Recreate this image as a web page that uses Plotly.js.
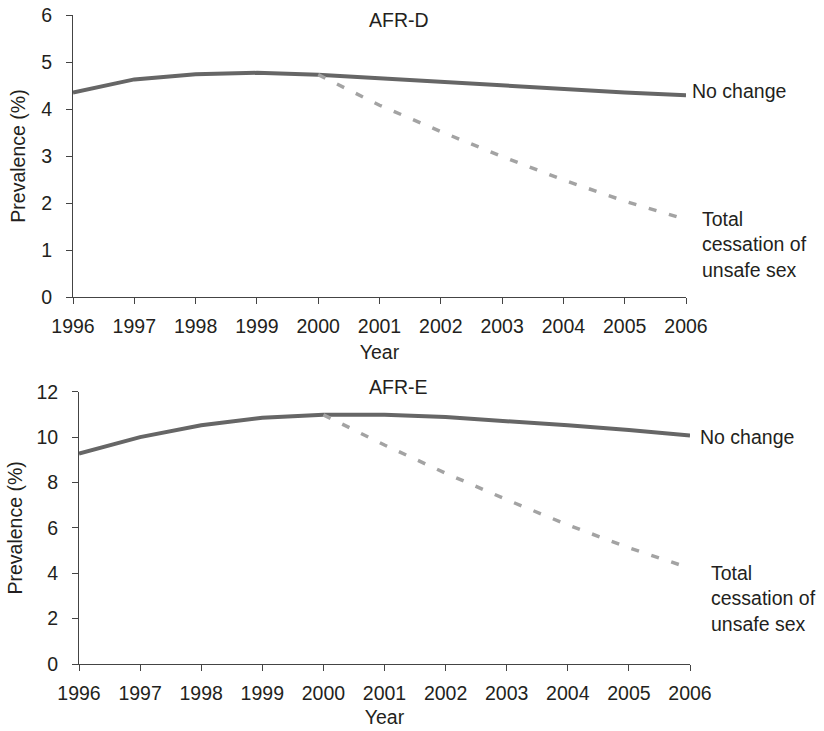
<!DOCTYPE html>
<html>
<head>
<meta charset="utf-8">
<script src="https://cdn.plot.ly/plotly-3.0.1.min.js"></script>
<style>
  html, body { margin: 0; padding: 0; background: #fff; }
  #chart { width: 824px; height: 731px; }
</style>
</head>
<body>
<div id="chart"></div>
<script>
// ---- data ----
const years = [1996, 1997, 1998, 1999, 2000, 2001, 2002, 2003, 2004, 2005, 2006];
const cessYears = [2000, 2001, 2002, 2003, 2004, 2005, 2006];

const afrDNoChange = [4.35, 4.63, 4.74, 4.77, 4.73, 4.65, 4.57, 4.49, 4.42, 4.35, 4.29];
const afrDCessation = [4.73, 4.08, 3.52, 2.99, 2.49, 2.04, 1.65];

const afrENoChange = [9.27, 10.0, 10.52, 10.85, 10.98, 10.98, 10.88, 10.72, 10.52, 10.31, 10.07];
const afrECessation = [10.98, 9.65, 8.41, 7.24, 6.13, 5.12, 4.22];

const panelTitles = ["AFR-D", "AFR-E"];
const yTickVals = [[0, 1, 2, 3, 4, 5, 6], [0, 2, 4, 6, 8, 10, 12]];
const yRanges = [[0, 6], [0, 12]];
const labelNoChange = "No change";
const labelCessation = "Total<br>cessation of<br>unsafe sex";
const xTitle = "Year";
const yTitle = "Prevalence (%)";

// ---- styles ----
const FONT = "Liberation Sans, Arial, Helvetica, sans-serif";
const TXT = "#231f20";
const AXIS = "#444444";
const SOLID = "#666666";
const DASHC = "#a3a3a3";
const FS = 19.5;

const W = 824, H = 731;
function px2x(p) { return p / W; }
function px2y(p) { return 1 - p / H; }

const traces = [
  { x: years, y: afrDNoChange, xaxis: "x", yaxis: "y", mode: "lines",
    line: { color: SOLID, width: 4 }, hoverinfo: "skip" },
  { x: cessYears, y: afrDCessation, xaxis: "x", yaxis: "y", mode: "lines",
    line: { color: DASHC, width: 3.5, dash: "8px,13px" }, hoverinfo: "skip" },
  { x: years, y: afrENoChange, xaxis: "x2", yaxis: "y2", mode: "lines",
    line: { color: SOLID, width: 4 }, hoverinfo: "skip" },
  { x: cessYears, y: afrECessation, xaxis: "x2", yaxis: "y2", mode: "lines",
    line: { color: DASHC, width: 3.5, dash: "8px,13px" }, hoverinfo: "skip" }
];

function xAxis(domain, anchor, standoff) {
  return {
    domain: domain, anchor: anchor, range: [years[0], years[years.length - 1]],
    tickvals: years, ticktext: years.map(String),
    showline: true, linecolor: AXIS, linewidth: 1,
    ticks: "outside", ticklen: 6, tickcolor: AXIS, tickwidth: 1,
    ticklabelstandoff: 6,
    showgrid: false, zeroline: false,
    tickfont: { family: FONT, size: FS, color: TXT },
    title: { text: xTitle, font: { family: FONT, size: FS, color: TXT }, standoff: standoff }
  };
}
function yAxis(domain, anchor, range, tv, standoff) {
  return {
    domain: domain, anchor: anchor, range: range, tickvals: tv,
    showline: true, linecolor: AXIS, linewidth: 1,
    ticks: "outside", ticklen: 6, tickcolor: AXIS, tickwidth: 1,
    ticklabelstandoff: 10,
    showgrid: false, zeroline: false,
    tickfont: { family: FONT, size: FS, color: TXT },
    title: { text: yTitle, font: { family: FONT, size: FS, color: TXT }, standoff: standoff }
  };
}

const nD = afrDNoChange.length - 1, cD = afrDCessation.length - 1;
const nE = afrENoChange.length - 1, cE = afrECessation.length - 1;
const annFont = { family: FONT, size: FS, color: TXT };

const layout = {
  width: W, height: H,
  margin: { l: 0, r: 0, t: 0, b: 0 },
  paper_bgcolor: "#ffffff", plot_bgcolor: "#ffffff",
  showlegend: false,
  xaxis: xAxis([px2x(73), px2x(686)], "y", 8),
  yaxis: yAxis([px2y(297), px2y(15)], "x", yRanges[0], yTickVals[0], 10),
  xaxis2: xAxis([px2x(79), px2x(690)], "y2", 6),
  yaxis2: yAxis([px2y(664), px2y(391.7)], "x2", yRanges[1], yTickVals[1], 8),
  annotations: [
    { text: panelTitles[0], xref: "paper", yref: "paper", x: px2x(399), y: px2y(20),
      xanchor: "center", yanchor: "middle", showarrow: false, font: annFont },
    { text: panelTitles[1], xref: "paper", yref: "paper", x: px2x(398), y: px2y(387),
      xanchor: "center", yanchor: "middle", showarrow: false, font: annFont },
    { text: labelNoChange, xref: "x", yref: "y", x: years[nD], y: afrDNoChange[nD],
      xanchor: "left", yanchor: "middle", xshift: 4, yshift: 4, showarrow: false, font: annFont },
    { text: labelCessation, xref: "x", yref: "y", x: cessYears[cD], y: afrDCessation[cD],
      xanchor: "left", yanchor: "middle", align: "left", xshift: 14, yshift: -25,
      showarrow: false, font: annFont },
    { text: labelNoChange, xref: "x2", yref: "y2", x: years[nE], y: afrENoChange[nE],
      xanchor: "left", yanchor: "middle", xshift: 8, yshift: -2, showarrow: false, font: annFont },
    { text: labelCessation, xref: "x2", yref: "y2", x: cessYears[cE], y: afrECessation[cE],
      xanchor: "left", yanchor: "middle", align: "left", xshift: 19, yshift: -30,
      showarrow: false, font: annFont }
  ]
};

Plotly.newPlot("chart", traces, layout, { staticPlot: true, displayModeBar: false });
</script>
</body>
</html>
